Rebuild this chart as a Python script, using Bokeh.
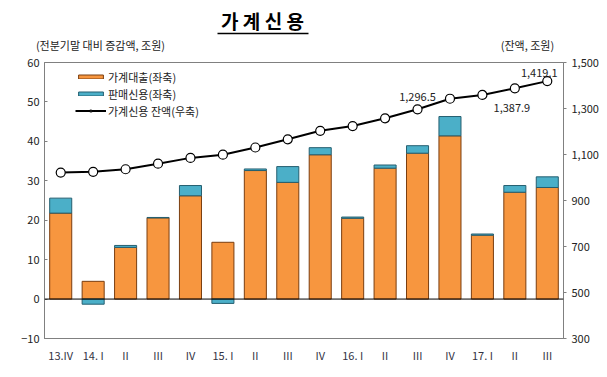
import numpy as np
from bokeh.plotting import figure
from bokeh.models import (Range1d, LinearAxis, FixedTicker, NumeralTickFormatter, Span,
                          Label, Legend, LegendItem, ColumnDataSource)
from bokeh.embed import file_html
from bokeh.resources import INLINE

# ---- data ----
quarters = ["13.IV", "14. I", "II", "III", "IV", "15. I", "II", "III", "IV",
            "16. I", "II", "III", "IV", "17. I", "II", "III"]
household_loans = [21.8, 4.5, 13.1, 20.6, 26.2, 14.4, 32.6, 29.6, 36.6,
                   20.5, 33.2, 37.0, 41.4, 16.2, 27.1, 28.3]
sales_credit = [3.8, -1.3, 0.5, 0.1, 2.6, -1.1, 0.4, 4.0, 1.8,
                0.3, 0.8, 1.9, 4.9, 0.3, 1.7, 2.7]
credit_balance = [1021.4, 1024.8, 1035.9, 1060.1, 1085.3, 1099.3, 1130.5, 1166.0, 1203.1,
                  1223.7, 1257.3, 1296.5, 1342.5, 1359.1, 1387.9, 1419.1]
left_ticks = [-10, 0, 10, 20, 30, 40, 50, 60]
right_ticks = [300, 500, 700, 900, 1100, 1300, 1500]
labelled_points = {11: (0, 12), 15: (-8, 8), 14: (-3, -20)}
title_text = "가 계 신 용"
left_unit = "(전분기말 대비 증감액, 조원)"
right_unit = "(잔액, 조원)"

FONT = "Noto Sans CJK KR"
W, H = 605, 372
BL, BR, BT = 44, 42, 62
BB = H - 338
n = len(quarters)


def px_to_x(px):
    # page pixel -> category coordinate (frame spans x 44..563)
    return (px - BL) / ((W - BL - BR) / n) - 0.5


x = np.arange(n)
loans = np.array(household_loans)
sales = np.array(sales_credit)
s_bottom = np.where(sales >= 0, loans, 0)
s_top = np.where(sales >= 0, loans + sales, sales)

p = figure(width=W, height=H, output_backend="svg", toolbar_location=None,
           x_range=Range1d(-0.5, n - 0.5), y_range=Range1d(-10, 60),
           min_border_left=BL, min_border_right=BR, min_border_top=BT, min_border_bottom=BB)
p.extra_y_ranges = {"right": Range1d(300, 1500)}
p.xgrid.visible = False
p.ygrid.visible = False
p.outline_line_color = "#808080"
p.outline_line_width = 1
p.background_fill_color = "white"
p.border_fill_color = "white"

src = ColumnDataSource(dict(x=x, loans=loans, zero=np.zeros_like(loans),
                            sb=s_bottom, st=s_top, bal=np.array(credit_balance)))

r_loans = p.vbar(x="x", bottom="zero", top="loans", width=0.68, source=src,
                 fill_color="#F7963F", line_color="#7A3E10", line_width=1)
r_sales = p.vbar(x="x", bottom="sb", top="st", width=0.68, source=src,
                 fill_color="#4BAFC8", line_color="#255F70", line_width=1)
p.add_layout(Span(location=0, dimension="width", line_color="#000000", line_width=1))

r_line = p.line(x="x", y="bal", source=src, y_range_name="right",
                line_color="#000000", line_width=2)
r_pts = p.scatter(x="x", y="bal", source=src, y_range_name="right", size=9,
                  marker="circle", fill_color="white", line_color="#000000", line_width=1.2)

for i, (dx, dy) in labelled_points.items():
    p.add_layout(Label(x=i, y=credit_balance[i], y_range_name="right",
                       text=f"{credit_balance[i]:,.1f}", x_offset=dx, y_offset=dy,
                       text_align="center", text_baseline="middle",
                       text_font=FONT, text_font_size="11px", text_color="#222222"))

# axes
p.yaxis.ticker = FixedTicker(ticks=left_ticks)
ax = p.yaxis[0]
ax.axis_line_color = "#808080"
ax.major_tick_in = 3
ax.major_tick_out = 0
ax.minor_tick_line_color = None
ax.major_tick_line_color = "#808080"
ax.major_label_text_font = FONT
ax.major_label_text_font_size = "11px"
ax.major_label_text_color = "#222222"

rax = LinearAxis(y_range_name="right", ticker=FixedTicker(ticks=right_ticks),
                 formatter=NumeralTickFormatter(format="0,0"))
rax.axis_line_color = "#808080"
rax.major_tick_in = 0
rax.major_tick_out = 3
rax.minor_tick_line_color = None
rax.major_tick_line_color = "#808080"
rax.major_label_text_font = FONT
rax.major_label_text_font_size = "11px"
rax.major_label_text_color = "#222222"
p.add_layout(rax, "right")

xa = p.xaxis[0]
xa.ticker = FixedTicker(ticks=list(x))
xa.major_label_overrides = {int(i): q for i, q in zip(x, quarters)}
xa.axis_line_color = "#808080"
xa.major_tick_in = 0
xa.major_tick_out = 0
xa.minor_tick_line_color = None
xa.major_label_standoff = 8
xa.major_label_text_font = FONT
xa.major_label_text_font_size = "11px"
xa.major_label_text_color = "#333344"

# unit captions: an axis above the frame with no line, carrying two text labels
ux_l, ux_r = round(px_to_x(100), 3), round(px_to_x(527), 3)
unit_axis = LinearAxis(ticker=FixedTicker(ticks=[ux_l, ux_r]),
                       major_label_overrides={ux_l: left_unit, ux_r: right_unit})
unit_axis.axis_line_color = None
unit_axis.major_tick_line_color = None
unit_axis.minor_tick_line_color = None
unit_axis.major_tick_in = 0
unit_axis.major_tick_out = 0
unit_axis.major_label_standoff = 10
unit_axis.major_label_text_font = FONT
unit_axis.major_label_text_font_size = "11px"
unit_axis.major_label_text_color = "#222222"
p.add_layout(unit_axis, "above")

# title: an axis whose short line underlines its single label
tx = round(px_to_x(262), 3)
title_axis = LinearAxis(ticker=FixedTicker(ticks=[tx]),
                        major_label_overrides={tx: title_text},
                        bounds=(px_to_x(217), px_to_x(308)))
title_axis.axis_line_color = "#000000"
title_axis.axis_line_width = 1.5
title_axis.major_tick_line_color = None
title_axis.minor_tick_line_color = None
title_axis.major_tick_in = 0
title_axis.major_tick_out = 0
title_axis.major_label_standoff = 0
title_axis.major_label_text_font = FONT
title_axis.major_label_text_font_size = "19px"
title_axis.major_label_text_font_style = "bold"
title_axis.major_label_text_color = "#000000"
p.add_layout(title_axis, "above")

# legend
legend = Legend(items=[
    LegendItem(label="가계대출(좌축)", renderers=[r_loans]),
    LegendItem(label="판매신용(좌축)", renderers=[r_sales]),
    LegendItem(label="가계신용 잔액(우축)", renderers=[r_line, r_pts]),
], location=(31, 219), glyph_width=31, glyph_height=5, label_height=17,
    spacing=0, padding=0, margin=0, border_line_color=None, background_fill_alpha=0,
    label_text_font=FONT, label_text_font_size="11px", label_text_color="#222222",
    label_standoff=2)
p.add_layout(legend)

open("out.html", "w").write(file_html(p, INLINE))
